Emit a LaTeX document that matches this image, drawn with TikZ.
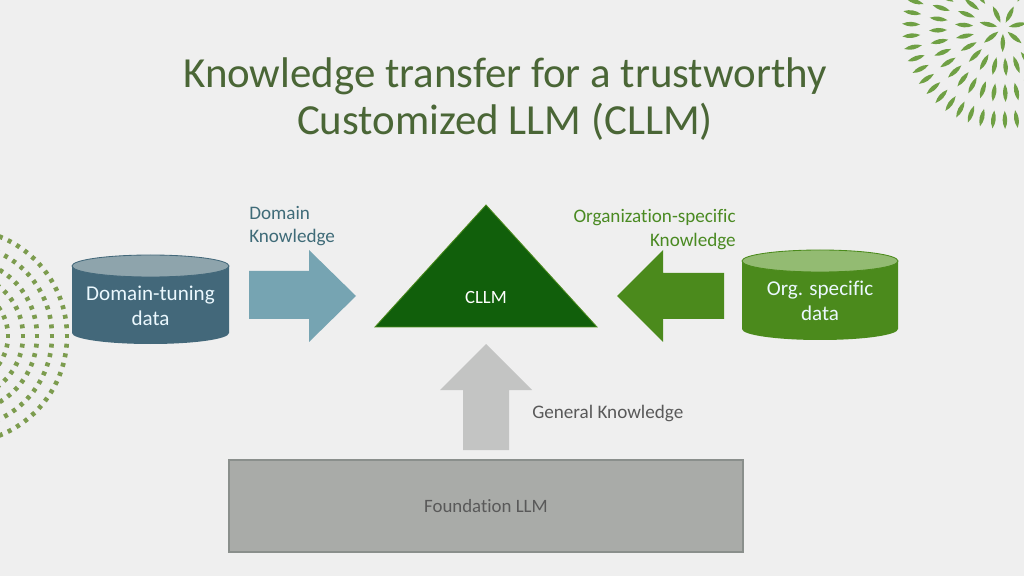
\documentclass[tikz,border=0pt]{standalone}
\usepackage{fontspec}
\setmainfont[Ligatures=NoCommon]{Carlito}
\usepackage{xcolor}
\usepackage{tikz}
\definecolor{pagebg}{HTML}{EFEFEF}
\definecolor{titlegreen}{HTML}{4A6636}
\definecolor{burstgreen}{HTML}{6FA044}
\definecolor{dotgreen}{HTML}{7C9C4E}
\definecolor{domainteal}{HTML}{43687A}
\definecolor{domainlid}{HTML}{8EA4AC}
\definecolor{domainarrow}{HTML}{76A4B2}
\definecolor{domaintext}{HTML}{3F6B78}
\definecolor{orggreen}{HTML}{4B8A1C}
\definecolor{orglid}{HTML}{93BB72}
\definecolor{orgtext}{HTML}{4A8A22}
\definecolor{cllmgreen}{HTML}{115F0B}
\definecolor{genarrow}{HTML}{C3C4C3}
\definecolor{founfill}{HTML}{A9ABA8}
\definecolor{founedge}{HTML}{8A8F8C}
\definecolor{greytext}{HTML}{595959}
\tikzset{
  label text/.style={font=\fontsize{13.6}{16.5}\selectfont,inner sep=0pt,align=left},
  drum text/.style={font=\fontsize{15}{18}\selectfont,inner sep=0pt,align=center,text=white!92!cyan},
}
\newcommand{\drawDrum}[6]{% left, top, right, bottom: x1,y1,x2,y2; body, lid
  \fill[#5] (#1,#2+11) -- (#1,#4-11) arc (180:0:{(#3-#1)/2} and 11) -- (#3,#2+11) -- cycle;
  \fill[#6,draw=#5,line width=.6pt] ({(#1+#3)/2},#2+11) ellipse ({(#3-#1)/2} and 11);
}
\newcommand{\drawBurst}[3]{% radius, count, dash length
  \foreach \k in {1,...,#2}{
    \pgfmathsetmacro{\ang}{\k/#2*360+12}
    \fill[burstgreen,shift={(1003,28)},rotate=\ang] (#1-#3/2,0) to[bend left=26] (#1+#3/2,0) to[bend left=26] (#1-#3/2,0) -- cycle;
  }
}
\newcommand{\drawDots}[3]{% radius, step, offset
  \foreach \k in {-16,...,16}{
    \pgfmathsetmacro{\ang}{\k*#2+#3}
    \draw[dotgreen,line width=2.8pt] (-40,336) ++(\ang:#1-2.3) -- ++(\ang:4.6);
  }
}
\begin{document}
\begin{tikzpicture}[x=0.025cm,y=-0.025cm]
\useasboundingbox (0,0) rectangle (1024,576);
\fill[pagebg] (0,0) rectangle (1024,576);
\clip (0,0) rectangle (1024,576);

% Corner decorations
\drawBurst{15}{7}{18}
\drawBurst{39}{22}{18}
\drawBurst{65}{36}{18}
\drawBurst{92}{50}{18}
\drawDots{107}{5.2}{0}
\drawDots{92}{6}{0}
\drawDots{77}{7.2}{0}
\drawDots{63}{8.8}{0}
\drawDots{48}{11.5}{0}

% Title
\node[font=\fontsize{30.5}{34}\selectfont,text=titlegreen,align=center,inner sep=0pt] (title) at (505,99)
  {Knowledge transfer for a trustworthy\\Customized LLM (CLLM)};

% Domain data and arrow
\drawDrum{72}{255}{229}{344}{domainteal}{domainlid}
\node[drum text] (domaindata) at (150.5,305.5) {Domain-tuning\\data};
\fill[domainarrow] (249,271) -- (309,271) -- (309,250) -- (356,296) -- (309,342) -- (309,319) -- (249,319) -- cycle;
\node[label text,text=domaintext,anchor=north west] (domainlabel) at (249,206) {Domain\\Knowledge};

% CLLM triangle
\fill[cllmgreen,draw=orggreen,line width=.6pt] (486,205) -- (597,327) -- (375,327) -- cycle;
\node[font=\fontsize{13.3}{15}\selectfont,text=white,inner sep=0pt] (cllm) at (486,297) {CLLM};

% Organization data and arrow
\drawDrum{742}{250}{898}{340}{orggreen}{orglid}
\node[drum text] (orgdata) at (820,301) {Org. specific\\data};
\fill[orggreen] (724,273) -- (663,273) -- (663,250) -- (617,296) -- (663,342) -- (663,319) -- (724,319) -- cycle;
\node[label text,text=orgtext,align=right,anchor=north east] (orglabel) at (736,209.5) {Organization-specific\hspace{3pt}\\Knowledge};

% General knowledge
\fill[genarrow] (463,450) -- (463,390) -- (440,390) -- (486,344) -- (532,390) -- (509,390) -- (509,450) -- cycle;
\node[label text,text=greytext,anchor=west] (genlabel) at (532,414) {General Knowledge};

% Foundation
\node[draw=founedge,fill=founfill,line width=.8pt,minimum width=514*0.025cm,minimum height=92*0.025cm,
  text=greytext,font=\fontsize{13.4}{16}\selectfont,inner sep=0pt] (foundation) at (486,506) {Foundation LLM};
\end{tikzpicture}
\end{document}
